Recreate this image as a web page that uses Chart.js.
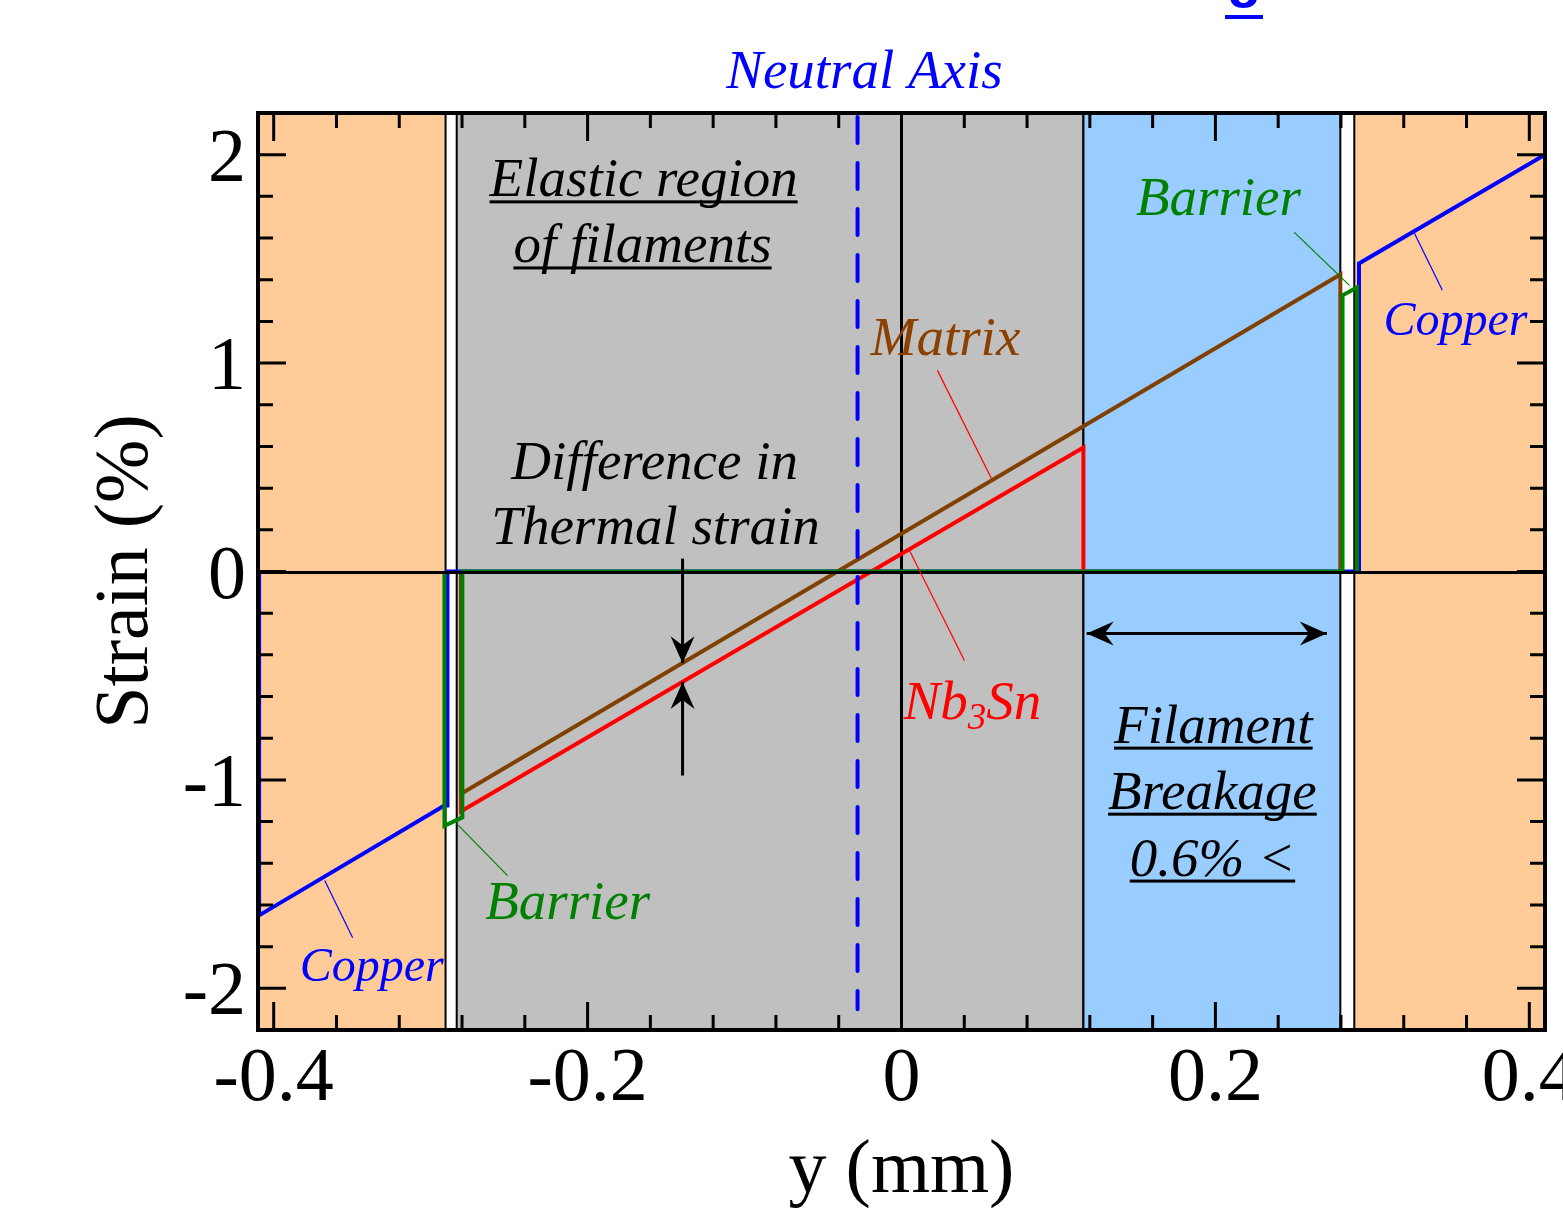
<!DOCTYPE html>
<html>
<head>
<meta charset="utf-8">
<script src="https://cdn.jsdelivr.net/npm/chart.js@4.4.0/dist/chart.umd.min.js"></script>
<style>
  html, body { margin: 0; padding: 0; background: #fff; }
  #strain { display: block; }
</style>
</head>
<body>
<canvas id="strain" width="1563" height="1212"></canvas>
<script>
// strain (%) across the wire section, position y in mm
const copperPos    = [-0.4093, -0.4093, -0.2912, -0.2893, -0.2893, 0.2915, 0.2915, 0.41];
const copperStrain = [0, -1.65, -1.123, -1.123, 0, 0, 1.478, 2.0];

const barrierPos    = [-0.2912, -0.2912, -0.2798, -0.2798, 0.2810, 0.2810, 0.2902, 0.2902];
const barrierStrain = [0, -1.22, -1.18, 0, 0, 1.325, 1.363, 0];

const matrixPos    = [-0.2806, -0.2806, 0.2796, 0.2796];
const matrixStrain = [0, -1.066, 1.425, 0];

const nb3snPos    = [-0.2806, -0.2806, 0.1159, 0.1159];
const nb3snStrain = [0, -1.15, 0.595, 0];

// material bands (copper / filament region / breakage zone / copper)
const bandFrom  = [-0.41, -0.2834, 0.1159, 0.2885];
const bandTo    = [-0.2905, 0.1159, 0.2796, 0.41];
const bandColor = ['#ffcc99', '#c0c0c0', '#99ccff', '#ffcc99'];

const neutralAxis = -0.028;

const xTicks = [-0.4, -0.2, 0, 0.2, 0.4];
const xTickLabels = ['-0.4', '-0.2', '0', '0.2', '0.4'];
const yTicks = [-2, -1, 0, 1, 2];
const yTickLabels = ['-2', '-1', '0', '1', '2'];

const notes = [
  { t: 'Neutral Axis',   x: -0.0236, y: 2.319,  c: '#0000ff', s: 55 },
  { t: 'Elastic region', x: -0.1643, y: 1.800,  c: '#000000', s: 55, u: true },
  { t: 'of filaments',   x: -0.1650, y: 1.483,  c: '#000000', s: 55, u: true },
  { t: 'Difference in',  x: -0.1573, y: 0.446,  c: '#000000', s: 55 },
  { t: 'Thermal strain', x: -0.1567, y: 0.134,  c: '#000000', s: 55 },
  { t: 'Matrix',         x: 0.0280,  y: 1.037,  c: '#8b4000', s: 55 },
  { t: 'Barrier',        x: 0.2019,  y: 1.709,  c: '#008000', s: 55 },
  { t: 'Copper',         x: 0.3529,  y: 1.133,  c: '#0000ff', s: 48 },
  { t: 'Barrier',        x: -0.2127, y: -1.666, c: '#008000', s: 55 },
  { t: 'Copper',         x: -0.3376, y: -1.963, c: '#0000ff', s: 48 },
  { t: 'Filament',       x: 0.1987,  y: -0.821, c: '#000000', s: 55, u: true },
  { t: 'Breakage',       x: 0.1981,  y: -1.138, c: '#000000', s: 55, u: true },
  { t: '0.6% <',         x: 0.1981,  y: -1.459, c: '#000000', s: 55, u: true }
];

// leader lines [x0, y0, x1, y1, colour]
const leaders = [
  [0.0229, 0.965, 0.0573, 0.446, '#ff0000'],
  [0.0051, 0.101, 0.0401, -0.427, '#ff0000'],
  [0.2503, 1.627, 0.2854, 1.373, '#008000'],
  [0.3268, 1.623, 0.3446, 1.349, '#0000ff'],
  [-0.2834, -1.21, -0.2510, -1.459, '#008000'],
  [-0.3675, -1.483, -0.3497, -1.757, '#0000ff']
];

const zip = (xs, ys) => xs.map((v, i) => ({ x: v, y: ys[i] }));

function arrowHead(ctx, tx, ty, ang) {
  ctx.save();
  ctx.translate(tx, ty);
  ctx.rotate(ang);
  ctx.beginPath();
  ctx.moveTo(0, 0);
  ctx.lineTo(-27, -12);
  ctx.lineTo(-18, 0);
  ctx.lineTo(-27, 12);
  ctx.closePath();
  ctx.fill();
  ctx.restore();
}

function arrow(ctx, x0, y0, x1, y1, both) {
  ctx.beginPath();
  ctx.moveTo(x0, y0);
  ctx.lineTo(x1, y1);
  ctx.stroke();
  const ang = Math.atan2(y1 - y0, x1 - x0);
  arrowHead(ctx, x1, y1, ang);
  if (both) arrowHead(ctx, x0, y0, ang + Math.PI);
}

const sketch = {
  id: 'sketch',
  beforeDatasetsDraw(chart) {
    const { ctx, chartArea: a, scales: { x } } = chart;
    ctx.save();
    bandFrom.forEach((f, i) => {
      const x0 = x.getPixelForValue(f), x1 = x.getPixelForValue(bandTo[i]);
      ctx.fillStyle = bandColor[i];
      ctx.fillRect(x0, a.top, x1 - x0, a.bottom - a.top);
      ctx.strokeStyle = '#000';
      ctx.lineWidth = 2;
      ctx.strokeRect(x0, a.top, x1 - x0, a.bottom - a.top);
    });
    // y = 0 mm line
    const x0 = x.getPixelForValue(0);
    ctx.lineWidth = 3;
    ctx.beginPath();
    ctx.moveTo(x0, a.top);
    ctx.lineTo(x0, a.bottom);
    ctx.stroke();
    ctx.restore();
  },
  afterDraw(chart) {
    const { ctx, chartArea: a, scales: { x, y } } = chart;
    ctx.save();

    // zero strain line
    const y0 = y.getPixelForValue(0);
    ctx.strokeStyle = '#000';
    ctx.lineWidth = 3;
    ctx.beginPath();
    ctx.moveTo(a.left, y0 + 1);
    ctx.lineTo(a.right, y0 + 1);
    ctx.stroke();

    // neutral axis
    const xn = x.getPixelForValue(neutralAxis);
    ctx.strokeStyle = '#0000ff';
    ctx.lineWidth = 4;
    ctx.lineCap = 'round';
    ctx.setLineDash([26, 20]);
    ctx.beginPath();
    ctx.moveTo(xn, a.top + 4);
    ctx.lineTo(xn, y.getPixelForValue(-2.1));
    ctx.stroke();
    ctx.setLineDash([]);
    ctx.lineCap = 'butt';

    // arrows
    ctx.strokeStyle = '#000';
    ctx.fillStyle = '#000';
    ctx.lineWidth = 3;
    const xa = x.getPixelForValue(-0.1395);
    arrow(ctx, xa, y.getPixelForValue(0.062), xa, y.getPixelForValue(-0.44));
    arrow(ctx, xa, y.getPixelForValue(-0.979), xa, y.getPixelForValue(-0.53));
    const yb = y.getPixelForValue(-0.298);
    arrow(ctx, x.getPixelForValue(0.118), yb, x.getPixelForValue(0.271), yb, true);

    // leader lines
    ctx.lineWidth = 1.2;
    leaders.forEach(l => {
      ctx.strokeStyle = l[4];
      ctx.beginPath();
      ctx.moveTo(x.getPixelForValue(l[0]), y.getPixelForValue(l[1]));
      ctx.lineTo(x.getPixelForValue(l[2]), y.getPixelForValue(l[3]));
      ctx.stroke();
    });

    // annotations
    ctx.textBaseline = 'alphabetic';
    notes.forEach(n => {
      ctx.font = 'italic ' + n.s + 'px "Liberation Serif"';
      ctx.fillStyle = n.c;
      ctx.textAlign = 'center';
      const px = x.getPixelForValue(n.x), py = y.getPixelForValue(n.y);
      ctx.fillText(n.t, px, py);
      if (n.u) {
        const w = ctx.measureText(n.t).width;
        ctx.fillRect(px - w / 2, py + 4, w, 3);
      }
    });

    // Nb3Sn with subscript
    {
      const px = x.getPixelForValue(0.0452), py = y.getPixelForValue(-0.706);
      ctx.fillStyle = '#ff0000';
      ctx.textAlign = 'left';
      ctx.font = 'italic 55px "Liberation Serif"';
      const w1 = ctx.measureText('Nb').width, w3 = ctx.measureText('Sn').width;
      ctx.font = 'italic 37px "Liberation Serif"';
      const w2 = ctx.measureText('3').width;
      let cx = px - (w1 + w2 + w3) / 2;
      ctx.font = 'italic 55px "Liberation Serif"';
      ctx.fillText('Nb', cx, py);
      cx += w1;
      ctx.font = 'italic 37px "Liberation Serif"';
      ctx.fillText('3', cx, py + 10);
      cx += w2;
      ctx.font = 'italic 55px "Liberation Serif"';
      ctx.fillText('Sn', cx, py);
    }

    // ticks on all four sides
    ctx.strokeStyle = '#000';
    ctx.lineWidth = 3;
    ctx.beginPath();
    for (let i = -10; i <= 10; i++) {
      const px = x.getPixelForValue(i * 0.04);
      const len = i % 5 === 0 ? 28 : 15;
      ctx.moveTo(px, a.bottom); ctx.lineTo(px, a.bottom - len);
      ctx.moveTo(px, a.top); ctx.lineTo(px, a.top + len);
    }
    for (let i = -10; i <= 10; i++) {
      const py = y.getPixelForValue(i * 0.2);
      const len = i % 5 === 0 ? 28 : 15;
      ctx.moveTo(a.left, py); ctx.lineTo(a.left + len, py);
      ctx.moveTo(a.right, py); ctx.lineTo(a.right - len, py);
    }
    ctx.stroke();

    // frame
    ctx.lineWidth = 4;
    ctx.strokeRect(a.left, a.top, a.right - a.left, a.bottom - a.top);

    // tick labels
    ctx.fillStyle = '#000';
    ctx.font = '76px "Liberation Serif"';
    ctx.textAlign = 'center';
    xTicks.forEach((v, i) => ctx.fillText(xTickLabels[i], x.getPixelForValue(v), a.bottom + 70));
    ctx.textAlign = 'right';
    yTicks.forEach((v, i) => ctx.fillText(yTickLabels[i], a.left - 12, y.getPixelForValue(v) + 26));

    // axis titles
    ctx.textAlign = 'center';
    ctx.fillText('y (mm)', (a.left + a.right) / 2, a.bottom + 162);
    ctx.save();
    ctx.translate(a.left - 111, (a.top + a.bottom) / 2);
    ctx.rotate(-Math.PI / 2);
    ctx.fillText('Strain (%)', 0, 0);
    ctx.restore();

    // clipped heading at the very top
    ctx.fillStyle = '#0000ff';
    ctx.font = 'bold 56px "Liberation Sans"';
    ctx.fillText('g', 1244, -4);
    ctx.fillRect(1225, 15, 38, 4);

    ctx.restore();
  }
};

const line = (label, xs, ys, color, order) => ({
  label,
  data: zip(xs, ys),
  showLine: true,
  borderColor: color,
  borderWidth: 4,
  pointRadius: 0,
  fill: false,
  order
});

new Chart(document.getElementById('strain').getContext('2d'), {
  type: 'scatter',
  data: {
    datasets: [
      line('Barrier', barrierPos, barrierStrain, '#008000', 0),
      line('Matrix', matrixPos, matrixStrain, '#804000', 1),
      line('Nb3Sn', nb3snPos, nb3snStrain, '#ff0000', 2),
      line('Copper', copperPos, copperStrain, '#0000ff', 3)
    ]
  },
  options: {
    responsive: false,
    animation: false,
    devicePixelRatio: 1,
    layout: { padding: { left: 258, right: 18, top: 113, bottom: 182 } },
    plugins: { legend: { display: false }, tooltip: { enabled: false } },
    scales: {
      x: { type: 'linear', min: -0.41, max: 0.41, display: false },
      y: { type: 'linear', min: -2.2, max: 2.2, display: false }
    }
  },
  plugins: [sketch]
});
</script>
</body>
</html>
